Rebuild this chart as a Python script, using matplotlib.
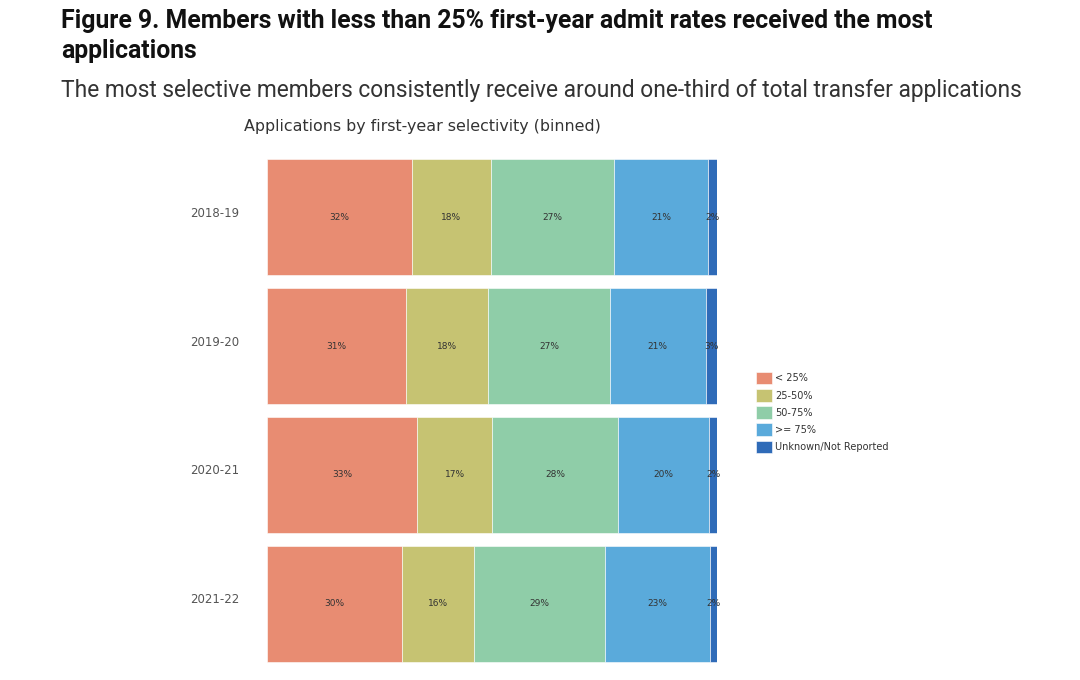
import matplotlib
matplotlib.use("Agg")
import matplotlib.pyplot as plt
import matplotlib.transforms as mtransforms
import numpy as np

years = ["2018-19", "2019-20", "2020-21", "2021-22"]
categories = ["< 25%", "25-50%", "50-75%", ">= 75%", "Unknown/Not Reported"]
lt25 = [32.2, 30.9, 33.4, 30.0]
b25_50 = [17.6, 18.2, 16.6, 16.0]
b50_75 = [27.3, 27.1, 28.0, 29.1]
ge75 = [20.9, 21.3, 20.3, 23.3]
unknown = [2.0, 2.5, 1.7, 1.6]
series = [lt25, b25_50, b50_75, ge75, unknown]
colors = ["#E88C72", "#C6C372", "#8FCDA8", "#5AAADB", "#2F6BB8"]

fig = plt.figure(figsize=(10.8, 6.8), dpi=100)
fig.text(61/1080, 1 - 9/680, "Figure 9. Members with less than 25% first-year admit rates received the most\napplications",
         family="Roboto", weight="bold", fontsize=17.8, va="top", ha="left", linespacing=1.3, color="#111111")
fig.text(61/1080, 1 - 79/680, "The most selective members consistently receive around one-third of total transfer applications",
         family="Roboto", fontsize=16.35, va="top", ha="left", color="#333333")
fig.text(244/1080, 1 - 127/680, "Applications by first-year selectivity (binned)",
         fontsize=11.4, va="center", ha="left", color="#333333")

ax = fig.add_axes([267/1080, 1 - 668/680, 450/1080, 515/680])
y = np.arange(len(years))
left = np.zeros(len(years))
for vals, c, lab in zip(series, colors, categories):
    vals = np.array(vals)
    ax.barh(y, vals, left=left, height=0.9, color=c, edgecolor="#ffffff", linewidth=0.4, label=lab)
    for yi, l, v in zip(y, left, vals):
        ax.text(l + v / 2, yi, f"{int(v + 0.5)}%", ha="center", va="center", fontsize=6.5, color="#333333")
    left = left + vals

ax.set_ylim(3.5, -0.5)
ax.set_xlim(0, 100)
ax.set_yticks(y)
ax.set_yticklabels(years, fontsize=8.5, color="#555555", va="center")
ax.tick_params(axis="y", length=0, pad=20)
offset = mtransforms.ScaledTranslation(0, 4/100, fig.dpi_scale_trans)
for lbl in ax.get_yticklabels():
    lbl.set_transform(lbl.get_transform() + offset)
ax.set_xticks([])
for s in ax.spines.values():
    s.set_visible(False)

leg = ax.legend(loc="upper left", bbox_to_anchor=(756/1080, 1 - 372/680), bbox_transform=fig.transFigure,
                frameon=False, fontsize=7, handlelength=1.6, handleheight=1.6, handletextpad=0.4,
                labelspacing=0.48, borderaxespad=0, borderpad=0)
for t in leg.get_texts():
    t.set_color("#333333")

fig.savefig("out.png", dpi=100, facecolor="white")
